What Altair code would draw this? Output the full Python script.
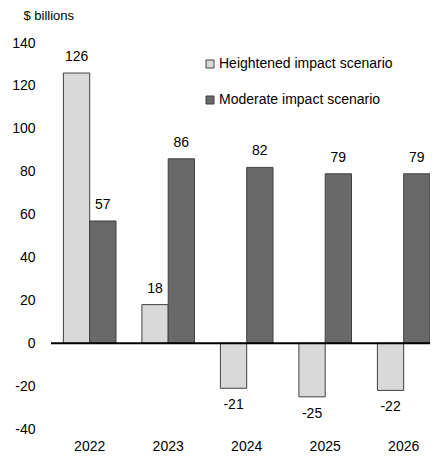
import altair as alt
import pandas as pd

years = ["2022", "2023", "2024", "2025", "2026"]
series = ["Heightened impact scenario", "Moderate impact scenario"]
heightened = [126, 18, -21, -25, -22]
moderate = [57, 86, 82, 79, 79]
colors = ["#d9d9d9", "#696969"]
y_ticks = [-40, -20, 0, 20, 40, 60, 80, 100, 120, 140]

rows = []
for i, yr in enumerate(years):
    rows.append({"year": yr, "series": series[0], "value": heightened[i], "label": str(heightened[i])})
    rows.append({"year": yr, "series": series[1], "value": moderate[i], "label": str(moderate[i])})
df = pd.DataFrame(rows)

FONT = "Liberation Sans, Arial, sans-serif"

x_enc = alt.X("year:N", sort=years, title=None,
              scale=alt.Scale(paddingInner=0.33, paddingOuter=0.079, align=1),
              axis=alt.Axis(labelAngle=0, domain=False, ticks=False, labelPadding=10,
                            labelFontSize=14, labelFont=FONT, labelColor="#000"))
xo_enc = alt.XOffset("series:N", sort=series, scale=alt.Scale(paddingInner=0, paddingOuter=0))
y_scale = alt.Scale(domain=[-40, 140], nice=False)

bars = alt.Chart(df).mark_bar(stroke="#404040", strokeWidth=1).encode(
    x=x_enc,
    xOffset=xo_enc,
    y=alt.Y("value:Q", scale=y_scale,
            axis=alt.Axis(values=y_ticks, grid=False, domain=False, ticks=False,
                          labelExpr="datum.value + ''",
                          labelPadding=16, labelFontSize=14, labelFont=FONT, labelColor="#000",
                          title="$ billions", titleAngle=0, titleAlign="left",
                          titleBaseline="top", titleX=-28, titleY=-34,
                          titleFontSize=13, titleFontWeight="normal", titleFont=FONT,
                          titleColor="#000")),
    color=alt.Color("series:N", sort=series,
                    scale=alt.Scale(domain=series, range=colors),
                    legend=alt.Legend(title=None, orient="none", legendX=152, legendY=14,
                                      symbolType="square", symbolSize=64,
                                      symbolStrokeColor="#404040", symbolStrokeWidth=1,
                                      labelFontSize=14, labelFont=FONT, labelColor="#000",
                                      labelLimit=0, rowPadding=22, labelOffset=2)),
)

pos_text = alt.Chart(df).transform_filter("datum.value >= 0").mark_text(
    baseline="middle", dy=-16, fontSize=14, font=FONT, color="#000"
).encode(x=x_enc, xOffset=xo_enc, y=alt.Y("value:Q", scale=y_scale), text="label:N")

neg_text = alt.Chart(df).transform_filter("datum.value < 0").mark_text(
    baseline="middle", dy=17, fontSize=14, font=FONT, color="#000"
).encode(x=x_enc, xOffset=xo_enc, y=alt.Y("value:Q", scale=y_scale), text="label:N")

zero = alt.Chart(pd.DataFrame({"z": [0]})).mark_rule(color="#000", strokeWidth=2).encode(
    y=alt.Y("z:Q", scale=y_scale)
)

chart = alt.layer(bars, zero, pos_text, neg_text).properties(
    width=379, height=386,
    autosize=alt.AutoSizeParams(type="none"),
    padding={"left": 43, "top": 35, "right": 0, "bottom": 28},
).configure_view(stroke=None)

chart.save("out.html", embed_options={"renderer": "svg", "actions": False})
